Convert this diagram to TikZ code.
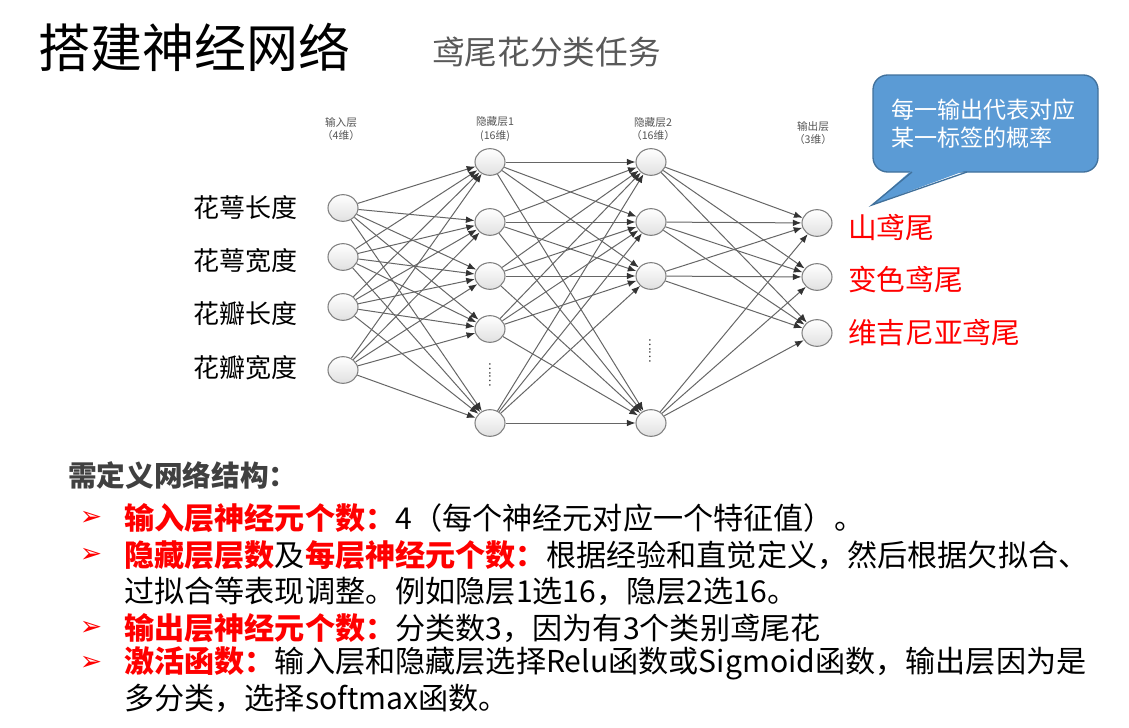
\documentclass[tikz,border=0pt]{standalone}
\usepackage{fontspec}
\setmainfont{Noto Sans CJK SC}
\newfontfamily\symfont{DejaVu Sans}
\usetikzlibrary{shapes.geometric,arrows.meta}
\definecolor{edgegray}{HTML}{666666}
\definecolor{arrowdark}{HTML}{333333}
\definecolor{nodeborder}{HTML}{808080}
\definecolor{labelgray}{HTML}{555555}
\definecolor{headgray}{HTML}{404040}
\definecolor{subgray}{HTML}{595959}
\definecolor{cfill}{HTML}{5B9BD5}
\definecolor{cborder}{HTML}{41719C}
\definecolor{hired}{HTML}{FF0000}
\newcommand{\R}[1]{\textcolor{hired}{\bfseries #1}}
\begin{document}
\begin{tikzpicture}[x=0.75pt,y=-0.75pt,
  neuron/.style={ellipse, draw=nodeborder, line width=0.8pt, top color=white, bottom color=black!12, minimum width=22.5pt, minimum height=20pt, inner sep=0pt},
  conn/.style={draw=edgegray, line width=0.75pt, -{Latex[length=6.5pt,width=5pt,color=arrowdark]}},
  layerlab/.style={font=\fontsize{8}{10}\selectfont, text=labelgray, align=center, inner sep=0pt},
  inlab/.style={font=\fontsize{19.5}{22}\selectfont, text=black, inner sep=0pt, anchor=west},
  outlab/.style={font=\fontsize{21.5}{24}\selectfont, text=hired, inner sep=0pt, anchor=west},
  bl/.style={font=\fontsize{22.6}{26}\selectfont, text=black, inner sep=0pt, anchor=west},
  bul/.style={font=\fontsize{20}{22}\selectfont\symfont, text=hired, inner sep=0pt},
  vdots/.style={font=\fontsize{9}{9}\selectfont, text=arrowdark, rotate=90, inner sep=0pt},
  cbox/.style={draw=cborder, fill=cfill, line width=1pt, rounded corners=11pt, minimum width=168.75pt, minimum height=72.75pt, inner sep=0pt, text=white, font=\fontsize{17.3}{21}\selectfont, align=left}
]
\useasboundingbox (0,0) rectangle (1129,728);

% title
\node[anchor=west, inner sep=0pt, font=\fontsize{39}{39}\selectfont] (title) at (38,47) {搭建神经网络};
\node[anchor=west, inner sep=0pt, font=\fontsize{24.5}{25}\selectfont, text=subgray] (sub) at (432,52) {鸢尾花分类任务};

% layer labels
\node[layerlab] (lin) at (341,129) {输入层\\（4维）};
\node[layerlab] (lh1) at (495,129) {隐藏层1\\(16维)};
\node[layerlab] (lh2) at (653,129) {隐藏层2\\（16维）};
\node[layerlab] (lout) at (813,133) {输出层\\（3维）};

% neurons
\node[neuron] (i1) at (343,208) {};
\node[neuron] (i2) at (343,257) {};
\node[neuron] (i3) at (343,307) {};
\node[neuron] (i4) at (343,370) {};

\node[neuron] (h1) at (490,162) {};
\node[neuron] (h2) at (490,222) {};
\node[neuron] (h3) at (490,276) {};
\node[neuron] (h4) at (490,329) {};
\node[neuron] (h5) at (490,423) {};

\node[neuron] (g1) at (651,162) {};
\node[neuron] (g2) at (651,222) {};
\node[neuron] (g3) at (651,276) {};
\node[neuron] (g4) at (651,423) {};

\node[neuron] (o1) at (817,223) {};
\node[neuron] (o2) at (817,277) {};
\node[neuron] (o3) at (817,333) {};

\node[vdots] (d1) at (490,375) {……};
\node[vdots] (d2) at (650,351) {……};

% connections
\foreach \a in {1,...,4}{\foreach \b in {1,...,5}{\draw[conn] (i\a) -- (h\b);}}
\foreach \a in {1,...,5}{\foreach \b in {1,...,4}{\draw[conn] (h\a) -- (g\b);}}
\foreach \a in {1,...,4}{\foreach \b in {1,...,3}{\draw[conn] (g\a) -- (o\b);}}

% input labels
\node[inlab] (t1) at (193,208) {花萼长度};
\node[inlab] (t2) at (193,261) {花萼宽度};
\node[inlab] (t3) at (193,314) {花瓣长度};
\node[inlab] (t4) at (193,368) {花瓣宽度};

% output labels
\node[outlab] (u1) at (848,228) {山鸢尾};
\node[outlab] (u2) at (848,280) {变色鸢尾};
\node[outlab] (u3) at (848,333) {维吉尼亚鸢尾};

% callout
\node[cbox] (cb) at (985.5,123.5) {\hspace*{-3pt}每一输出代表对应\\\hspace*{-3pt}某一标签的概率};
\coordinate (tip) at (872,205);
\coordinate (ta) at (912,172);
\coordinate (tb) at (967,172);
\fill[cfill] ([yshift=1.5pt]ta) -- (tip) -- ([yshift=1.5pt]tb) -- cycle;
\draw[cborder, line width=1pt, line join=miter] (ta) -- (tip) -- (tb);

% bottom text
\node[anchor=west, inner sep=0pt, font=\fontsize{21.5}{24}\selectfont\bfseries, text=headgray] (head) at (68,475) {需定义网络结构：};

\node[bul] (b1) at (91,518) {➢};
\node[bul] (b2) at (91,555) {➢};
\node[bul] (b3) at (91,628) {➢};
\node[bul] (b4) at (91,663) {➢};

\node[bl] (l1) at (124,518) {\R{输入层神经元个数：}4（每个神经元对应一个特征值）。};
\node[bl] (l2) at (124,555) {\R{隐藏层层数}及\R{每层神经元个数：}根据经验和直觉定义，然后根据欠拟合、};
\node[bl] (l3) at (124,591) {过拟合等表现调整。例如隐层1选16，隐层2选16。};
\node[bl] (l4) at (124,628) {\R{输出层神经元个数：}分类数3，因为有3个类别鸢尾花};
\node[bl] (l5) at (124,663) {\R{激活函数：}输入层和隐藏层选择Relu函数或Sigmoid函数，输出层因为是};
\node[bl] (l6) at (124,698) {多分类，选择softmax函数。};
\end{tikzpicture}
\end{document}
